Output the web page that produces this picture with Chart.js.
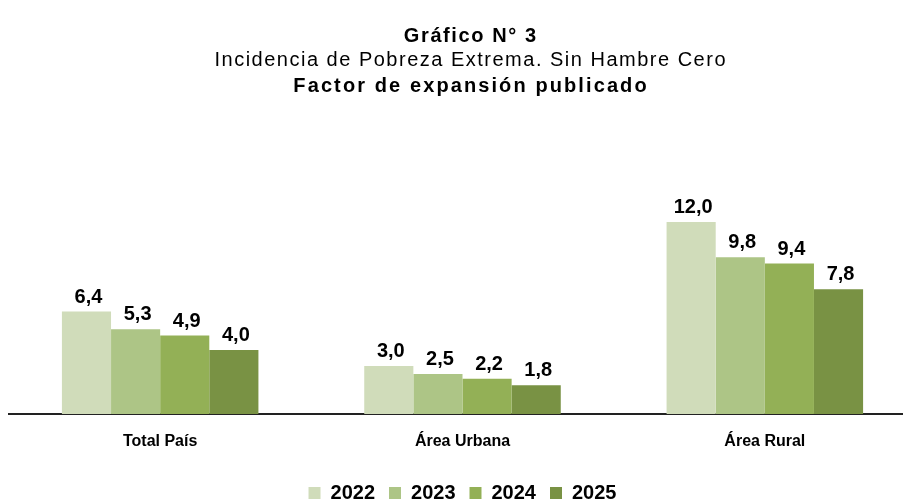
<!DOCTYPE html>
<html>
<head>
<meta charset="utf-8">
<script src="https://cdn.jsdelivr.net/npm/chart.js@4.4.1/dist/chart.umd.min.js"></script>
<style>
  html, body { margin: 0; padding: 0; background: #fff; overflow: hidden; }
  #wrap { width: 940px; height: 513px; }
</style>
</head>
<body>
<div id="wrap"><canvas id="pobrezaChart" width="940" height="513"></canvas></div>
<script>
// Incidencia de pobreza extrema por área (%)
const categories = ['Total País', 'Área Urbana', 'Área Rural'];
const years = ['2022', '2023', '2024', '2025'];
const values2022 = [6.4, 3.0, 12.0];
const values2023 = [5.3, 2.5, 9.8];
const values2024 = [4.9, 2.2, 9.4];
const values2025 = [4.0, 1.8, 7.8];
const colors = ['#d0dcba', '#adc586', '#93b056', '#799244'];

const seriesValues = [values2022, values2023, values2024, values2025];

const headerLines = [
    { text: 'Gráfico N° 3', bold: true, y: 36, spacing: 1.6 },
    { text: 'Incidencia de Pobreza Extrema. Sin Hambre Cero', bold: false, y: 60, spacing: 1.5 },
    { text: 'Factor de expansión publicado', bold: true, y: 86, spacing: 2.1 }
];

const font = 'Liberation Sans, Arial, sans-serif';

// value labels above each bar, decimal comma
const barLabels = {
    id: 'barLabels',
    afterDatasetsDraw(chart) {
        const ctx = chart.ctx;
        ctx.save();
        ctx.font = 'bold 20px ' + font;
        ctx.fillStyle = '#000';
        ctx.textAlign = 'center';
        ctx.textBaseline = 'alphabetic';
        chart.data.datasets.forEach((ds, i) => {
            chart.getDatasetMeta(i).data.forEach((bar, j) => {
                const txt = ds.data[j].toFixed(1).replace('.', ',');
                ctx.fillText(txt, bar.x + 2, bar.y - 9);
            });
        });
        ctx.restore();
    }
};

// header, three centred lines
const header = {
    id: 'header',
    afterDraw(chart) {
        const ctx = chart.ctx;
        ctx.save();
        ctx.fillStyle = '#000';
        ctx.textAlign = 'center';
        ctx.textBaseline = 'middle';
        headerLines.forEach(l => {
            ctx.font = (l.bold ? 'bold ' : '') + '20px ' + font;
            if ('letterSpacing' in ctx) ctx.letterSpacing = l.spacing + 'px';
            ctx.fillText(l.text, 470 + l.spacing / 2, l.y);
        });
        ctx.restore();
    }
};

document.addEventListener('DOMContentLoaded', () => {
    const ctx = document.getElementById('pobrezaChart').getContext('2d');
    new Chart(ctx, {
        type: 'bar',
        data: {
            labels: categories,
            datasets: years.map((y, i) => ({
                label: y,
                data: seriesValues[i],
                backgroundColor: colors[i],
                borderWidth: 0,
                categoryPercentage: 0.65,
                barPercentage: 1.0
            }))
        },
        options: {
            responsive: false,
            animation: false,
            layout: { padding: { left: 9, right: 24, top: 110, bottom: 0 } },
            scales: {
                x: {
                    grid: { display: false },
                    border: { display: true, color: '#222', width: 2 },
                    ticks: {
                        color: '#000',
                        padding: 10,
                        font: { family: font, size: 16, weight: 'bold' }
                    },
                    afterFit(scale) { scale.height = 55; }
                },
                y: { display: false, min: 0, max: 19 }
            },
            plugins: {
                title: { display: false },
                legend: {
                    position: 'bottom',
                    labels: {
                        color: '#000',
                        boxWidth: 12,
                        boxHeight: 12,
                        padding: 14,
                        font: { family: font, size: 20, weight: 'bold' }
                    }
                },
                tooltip: { enabled: false }
            }
        },
        plugins: [barLabels, header]
    });
});
</script>
</body>
</html>
